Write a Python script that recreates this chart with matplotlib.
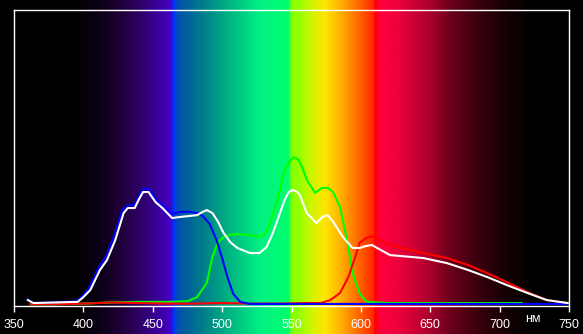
import numpy as np
import matplotlib.pyplot as plt
from matplotlib.colors import LinearSegmentedColormap

# wavelength (nm) / relative intensity
white_nm = [360, 364, 396, 400, 405, 412, 417, 423, 429, 432, 437, 440, 443, 447, 452, 457, 464,
            470, 482, 486, 489, 493, 497, 501, 506, 511, 520, 527, 532, 536, 540, 545, 548, 551,
            554, 556, 561, 568, 572, 576, 580, 587, 594, 599, 604, 608, 614, 621, 645, 662, 677,
            691, 705, 720, 734, 749]
white_val = [0.020, 0.010, 0.014, 0.030, 0.054, 0.122, 0.155, 0.223, 0.314, 0.331, 0.331, 0.360,
             0.385, 0.385, 0.351, 0.331, 0.297, 0.301, 0.307, 0.318, 0.324, 0.314, 0.285, 0.247,
             0.215, 0.196, 0.179, 0.179, 0.199, 0.240, 0.291, 0.358, 0.385, 0.392, 0.386, 0.375,
             0.314, 0.280, 0.300, 0.307, 0.285, 0.233, 0.196, 0.196, 0.203, 0.206, 0.190, 0.172,
             0.162, 0.145, 0.122, 0.098, 0.071, 0.044, 0.020, 0.010]

blue_nm = [360, 364, 395, 399, 404, 411, 416, 422, 428, 432, 437, 440, 443, 447, 452, 457, 464,
           470, 477, 482, 486, 491, 496, 500, 504, 508, 513, 520, 600, 700, 749]
blue_val = [0.022, 0.010, 0.016, 0.032, 0.060, 0.130, 0.165, 0.235, 0.325, 0.340, 0.342, 0.370,
            0.395, 0.395, 0.362, 0.341, 0.311, 0.318, 0.318, 0.314, 0.304, 0.277, 0.223, 0.162,
            0.095, 0.041, 0.014, 0.007, 0.007, 0.007, 0.007]

green_nm = [362, 380, 400, 420, 440, 460, 475, 482, 489, 493, 497, 501, 508, 520, 527, 532,
            536, 540, 545, 549, 552, 555, 558, 561, 567, 572, 576, 580, 585, 590, 594, 599, 604,
            620, 680, 716]
green_val = [0.006, 0.006, 0.008, 0.012, 0.014, 0.014, 0.016, 0.030, 0.078, 0.166, 0.215, 0.233,
             0.243, 0.240, 0.233, 0.250, 0.300, 0.358, 0.459, 0.492, 0.503, 0.495, 0.465, 0.426,
             0.382, 0.399, 0.399, 0.385, 0.334, 0.223, 0.111, 0.044, 0.014, 0.010, 0.010, 0.010]

red_nm = [362, 380, 400, 420, 440, 460, 480, 500, 520, 540, 560, 571, 578, 585, 591, 596,
          599, 604, 609, 614, 621, 645, 662, 677, 691, 705, 720, 734, 749]
red_val = [0.006, 0.006, 0.008, 0.012, 0.010, 0.008, 0.008, 0.010, 0.008, 0.008, 0.010, 0.010,
           0.020, 0.044, 0.098, 0.166, 0.213, 0.230, 0.236, 0.222, 0.206, 0.179, 0.162, 0.139,
           0.111, 0.081, 0.047, 0.020, 0.010]

xticks = [350, 400, 450, 500, 550, 600, 650, 700, 750]

# background spectrum colours (nm, rgb)
spec = [(339.9, (0, 0, 0)), (395, (0, 0, 0)), (410, (10, 0, 20)), (426, (30, 0, 55)),
        (440, (45, 0, 100)), (455, (60, 0, 160)), (463, (70, 0, 200)), (464, (0, 40, 255)),
        (466, (0, 60, 230)), (468, (0, 80, 170)), (484, (0, 120, 140)), (505, (0, 180, 130)),
        (527, (0, 240, 130)), (548.5, (0, 255, 110)), (549.5, (130, 255, 0)), (556, (150, 255, 0)),
        (565, (210, 245, 0)), (574, (255, 230, 0)), (585, (255, 180, 0)), (599, (255, 100, 0)),
        (609, (255, 40, 0)), (610, (255, 0, 0)), (614, (255, 0, 60)), (628, (235, 0, 60)),
        (650, (170, 0, 45)), (664, (110, 0, 28)), (686, (55, 0, 12)), (707, (18, 0, 3)),
        (725, (0, 0, 0)), (760.1, (0, 0, 0))]

W, H = 583, 334
fig = plt.figure(figsize=(W / 100, H / 100), dpi=100)
fig.patch.set_facecolor('black')

x0, x1 = 350 - 14 * 400 / 555, 750 + (W - 569) * 400 / 555
bg = fig.add_axes([0, 0, 1, 1], zorder=0)
pos = [min(max((n - x0) / (x1 - x0), 0.0), 1.0) for n, c in spec]
pos[0], pos[-1] = 0.0, 1.0
cmap = LinearSegmentedColormap.from_list(
    'spec', [(p, tuple(v / 255 for v in c)) for p, (n, c) in zip(pos, spec)], N=1024)
grad = np.linspace(0, 1, 1200).reshape(1, -1)
bg.imshow(grad, cmap=cmap, aspect='auto', extent=[x0, x1, 0, 1], interpolation='bilinear')
bg.set_xlim(x0, x1)
bg.axis('off')

ax = fig.add_axes([14 / W, 28 / H, 555 / W, 296 / H], zorder=1)
ax.set_facecolor('none')
lw = 1.5
ax.plot(green_nm, green_val, color='#00ff00', lw=lw)
ax.plot(red_nm, red_val, color='#ff0000', lw=lw)
ax.plot(blue_nm, blue_val, color='#0000ff', lw=lw)
ax.plot(white_nm, white_val, color='white', lw=lw)
ax.set_xlim(350, 750)
ax.set_ylim(0, 1)
ax.set_xticks(xticks)
ax.set_yticks([])
ax.tick_params(axis='x', colors='white', length=4, width=1, pad=5, labelsize=9)
for lab in ax.get_xticklabels():
    lab.set_fontfamily('Liberation Sans')
for s in ax.spines.values():
    s.set_color('white')
    s.set_linewidth(1.0)

fig.text(533 / W, 1 - 318.5 / H, 'нм', color='white', fontsize=9, family='Liberation Sans',
         ha='center', va='center')

fig.savefig('out.png', dpi=100, facecolor='black')
